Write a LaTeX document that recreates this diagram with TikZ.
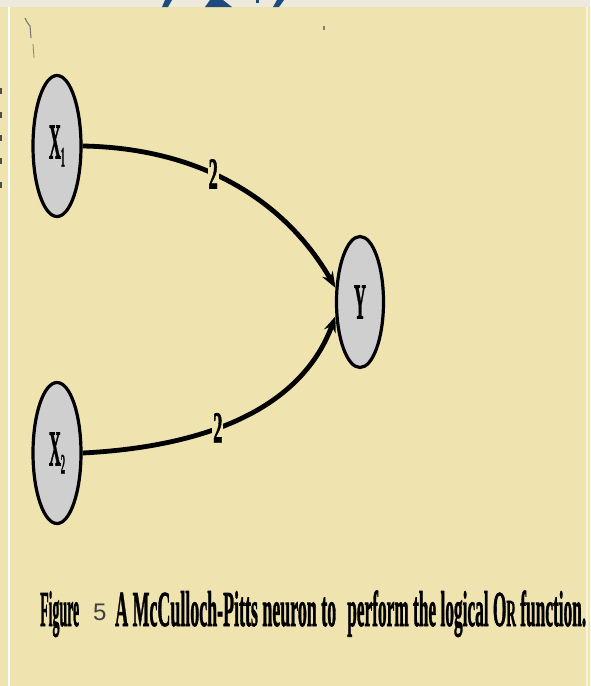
\documentclass[tikz,border=0pt]{standalone}
\usepackage{fontspec}
\setmainfont{Liberation Serif}
\newfontfamily\capsans{Liberation Sans}
\newfontfamily\heavy[FakeBold=1.6]{Liberation Serif Bold}
\usetikzlibrary{shapes.geometric,arrows.meta}
\definecolor{bg}{HTML}{EFE3B0}
\definecolor{strip}{HTML}{EDEADD}
\definecolor{nodefill}{HTML}{CFCFCF}
\definecolor{logo}{HTML}{1F4A80}
\newcommand\nlab[2]{\scalebox{0.33}[1]{\fontsize{50}{50}\heavy #1}\raisebox{-8pt}{\scalebox{0.3}[1]{\fontsize{28}{28}\heavy #2}}}
\newcommand\wlab{\scalebox{0.42}[1]{\fontsize{44}{44}\heavy 2}}
\tikzset{
  neuron/.style={ellipse, draw=black, line width=3.2pt, fill=nodefill, minimum width=48pt, minimum height=141pt, inner sep=0pt},
  wire/.style={line width=4.8pt, -{Stealth[length=16pt,width=12pt]}},
  weight/.style={fill=bg, inner sep=1pt},
  captxt/.style={anchor=base west, inner sep=0pt}
}
\begin{document}
\begin{tikzpicture}[x=1pt,y=-1pt]
\useasboundingbox (0,0) rectangle (590,686);
% background
\fill[bg] (0,0) rectangle (590,686);
\fill[strip] (0,0) rectangle (590,7);
\draw[white, line width=1.5pt] (9,7) -- (9,686);
\draw[white!60!bg, line width=1.2pt] (587,7) -- (587,686);
% logo fragments
\fill[logo] (165,0) -- (172,0) -- (168,7) -- (162,7) -- cycle;
\fill[logo] (210,0) -- (223,0) -- (232,7) -- (205,7) -- cycle;
\fill[logo] (256,0) -- (259,0) -- (259,3) -- (256,3) -- cycle;
\fill[logo] (277,0) -- (284,0) -- (279,7) -- (273,7) -- cycle;
% scan marks
\draw[gray, line width=1.2pt] (25,18) -- (27,22) -- (30,26) -- (31,38);
\draw[gray, line width=0.8pt] (33,44) -- (34,58);
\fill[gray] (323,26) rectangle (325,30);
\foreach \yy in {88,112,135,158,182} \fill[black!70] (0,\yy) rectangle (2,\yy+6);
% nodes
\node[neuron] (x1) at (57,146) {\nlab{X}{1}};
\node[neuron] (x2) at (57,453) {\nlab{X}{2}};
\node[neuron, minimum width=47pt, minimum height=131pt] (y) at (360,302) {\scalebox{0.33}[1]{\fontsize{50}{50}\heavy Y}};
% connections
\draw[wire] (x1.east) .. controls (200,148) and (285,200) .. (y.150)
  node[weight, pos=0.42] {\wlab};
\draw[wire] (x2.east) .. controls (200,447) and (300,412) .. (y.210)
  node[weight, pos=0.42] {\wlab};
% caption
\node[captxt] (c1) at (40,626) {\resizebox{39pt}{1.2\height}{\fontsize{42}{42}\heavy Figure}};
\node[captxt, text=black!75] (c2) at (93,620) {\fontsize{24}{24}\selectfont\capsans 5};
\node[captxt] (c3) at (115,626) {\resizebox{221pt}{1.2\height}{\fontsize{42}{42}\heavy A McCulloch-Pitts neuron to}};
\node[captxt] (c4) at (347,626) {\resizebox{239pt}{1.2\height}{\fontsize{42}{42}\heavy perform the logical O{\fontsize{32}{32}\heavy R} function.}};
\end{tikzpicture}
\end{document}
